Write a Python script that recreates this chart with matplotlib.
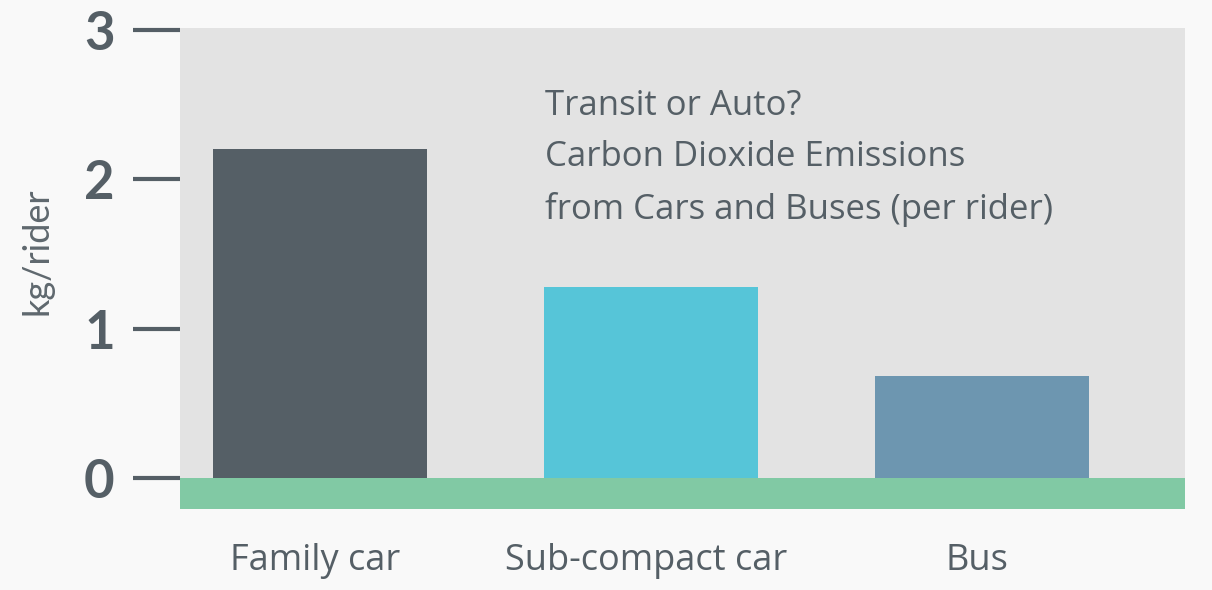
import matplotlib
matplotlib.use('Agg')
import matplotlib.pyplot as plt
import matplotlib.transforms as mtransforms

# values (kg CO2 per rider)
categories = ['Family car', 'Sub-compact car', 'Bus']
emissions = [2.2, 1.28, 0.68]
bar_colors = ['#555f66', '#56c5d8', '#6d96b0']
y_ticks = [0, 1, 2, 3]
title_lines = ['Transit or Auto?', 'Carbon Dioxide Emissions', 'from Cars and Buses (per rider)']

text_color = '#555f66'


def main():
    fig = plt.figure(figsize=(12.12, 5.9), dpi=100)
    fig.patch.set_facecolor('#f9f9f9')
    ax = fig.add_axes([180 / 1212, 1 - 508.5 / 590, 1005 / 1212, 480.5 / 590])
    ax.set_facecolor('#e3e3e3')

    x = list(range(len(categories)))
    ax.bar(x, emissions, width=0.646, color=bar_colors, zorder=2)

    # green ground strip under the zero line
    ax.axhspan(-0.205, 0, color='#81c9a4', lw=0, zorder=3)

    ax.set_ylim(-0.205, 3.013)
    ax.set_xlim(-0.423, 2.613)

    for s in ax.spines.values():
        s.set_visible(False)

    ax.set_yticks(y_ticks)
    ax.set_yticklabels([str(t) for t in y_ticks], fontfamily='Lato', fontweight='bold',
                       fontsize=38, color=text_color)
    ax.tick_params(axis='y', length=34, width=3, color=text_color, pad=13)

    ax.set_xticks(x)
    ax.set_xticklabels(categories, fontfamily='Open Sans', fontsize=26, color=text_color)
    ax.tick_params(axis='x', length=0, pad=25)
    # labels in the picture sit a few px left of the bar centres
    shift = mtransforms.ScaledTranslation(-0.05, 0, fig.dpi_scale_trans)
    for lbl in ax.get_xticklabels():
        lbl.set_transform(lbl.get_transform() + shift)

    ax.set_ylabel('kg/rider', fontfamily='Lato', fontsize=26, color='#5f686e')
    ax.yaxis.set_label_coords(-0.126, 0.536)

    ax.text(0.363, 0.874, '\n'.join(title_lines), transform=ax.transAxes,
            fontfamily='Open Sans', fontsize=25, color=text_color,
            ha='left', va='top', linespacing=1.67)

    fig.savefig('out.png', dpi=100, facecolor=fig.get_facecolor())


if __name__ == '__main__':
    main()
